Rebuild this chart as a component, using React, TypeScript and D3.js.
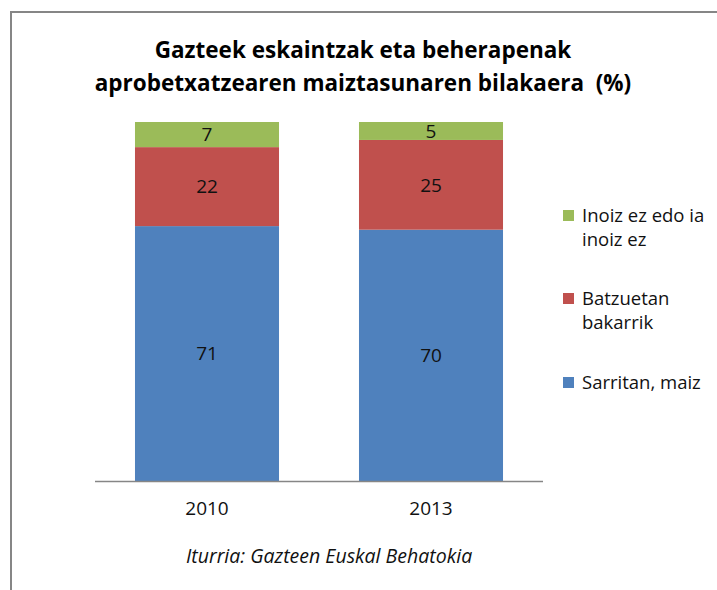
import React from "react";
import * as d3 from "d3";

const years = ["2010", "2013"];
const seriesNames = ["Sarritan, maiz", "Batzuetan bakarrik", "Inoiz ez edo ia inoiz ez"];
const sarritan = [71, 70];
const batzuetan = [22, 25];
const inoiz = [7, 5];
const colors = ["#4F81BD", "#C0504D", "#9BBB59"];
const legendLines = [["Inoiz ez edo ia", "inoiz ez"], ["Batzuetan", "bakarrik"], ["Sarritan, maiz"]];
const legendColorIdx = [2, 1, 0];
const titleLines = ["Gazteek eskaintzak eta beherapenak", "aprobetxatzearen maiztasunaren bilakaera  (%)"];
const sourceText = "Iturria: Gazteen Euskal Behatokia";

const W = 717;
const H = 590;
const FONT = "'Open Sans', 'Noto Sans', sans-serif";

export default function App() {
  const x = d3.scaleBand<string>().domain(years).range([95, 543]).padding(0);
  const y = d3.scaleLinear().domain([0, 100]).range([481, 122]);
  const barW = x.bandwidth() * 0.643;

  const table = years.map((yr, i) => ({ year: yr, s0: sarritan[i], s1: batzuetan[i], s2: inoiz[i] }));
  const stack = d3.stack<any>().keys(["s0", "s1", "s2"]);
  const stacked = stack(table);

  const legendY = [210, 293, 377];

  return (
    <svg width={W} height={H} style={{ position: "absolute", left: 0, top: 0, background: "#fff" }}>
      <rect x={0} y={0} width={W} height={H} fill="#fff" />
      <rect x={11} y={12} width={800} height={700} fill="#fff" stroke="#868686" strokeWidth={2} />
      <g fontFamily={FONT} fontWeight={700} fontSize={22.5} fill="#000" textAnchor="middle">
        {titleLines.map((t, i) => (
          <text key={i} x={363} y={58 + i * 33} style={{ whiteSpace: "pre" }}>{t}</text>
        ))}
      </g>
      {stacked.map((layer, li) => (
        <g key={li}>
          {layer.map((d, i) => {
            const x0 = (x(years[i]) as number) + x.bandwidth() / 2 - barW / 2;
            const yTop = y(d[1]);
            const yBot = y(d[0]);
            return (
              <g key={i}>
                <rect x={x0} y={yTop} width={barW} height={yBot - yTop} fill={colors[li]} />
                <text
                  x={x0 + barW / 2}
                  y={(yTop + yBot) / 2}
                  dy="0.36em"
                  textAnchor="middle"
                  fontFamily={FONT}
                  fontSize={19}
                  fill="#111"
                >
                  {d[1] - d[0]}
                </text>
              </g>
            );
          })}
        </g>
      ))}
      <line x1={95} x2={543} y1={481.5} y2={481.5} stroke="#868686" strokeWidth={1.5} />
      {years.map((yr) => (
        <text key={yr} x={(x(yr) as number) + x.bandwidth() / 2} y={515} textAnchor="middle" fontFamily={FONT} fontSize={19} fill="#111">
          {yr}
        </text>
      ))}
      {legendLines.map((lines, i) => (
        <g key={i}>
          <rect x={563} y={legendY[i]} width={11} height={11} fill={colors[legendColorIdx[i]]} />
          {lines.map((ln, j) => (
            <text key={j} x={582} y={legendY[i] + 12 + j * 24} fontFamily={FONT} fontSize={18.5} fill="#111">
              {ln}
            </text>
          ))}
        </g>
      ))}
      <text x={186} y={563} fontFamily={FONT} fontStyle="italic" fontSize={19.5} fill="#111">
        {sourceText}
      </text>
      <title>{seriesNames.join(", ")}</title>
    </svg>
  );
}
